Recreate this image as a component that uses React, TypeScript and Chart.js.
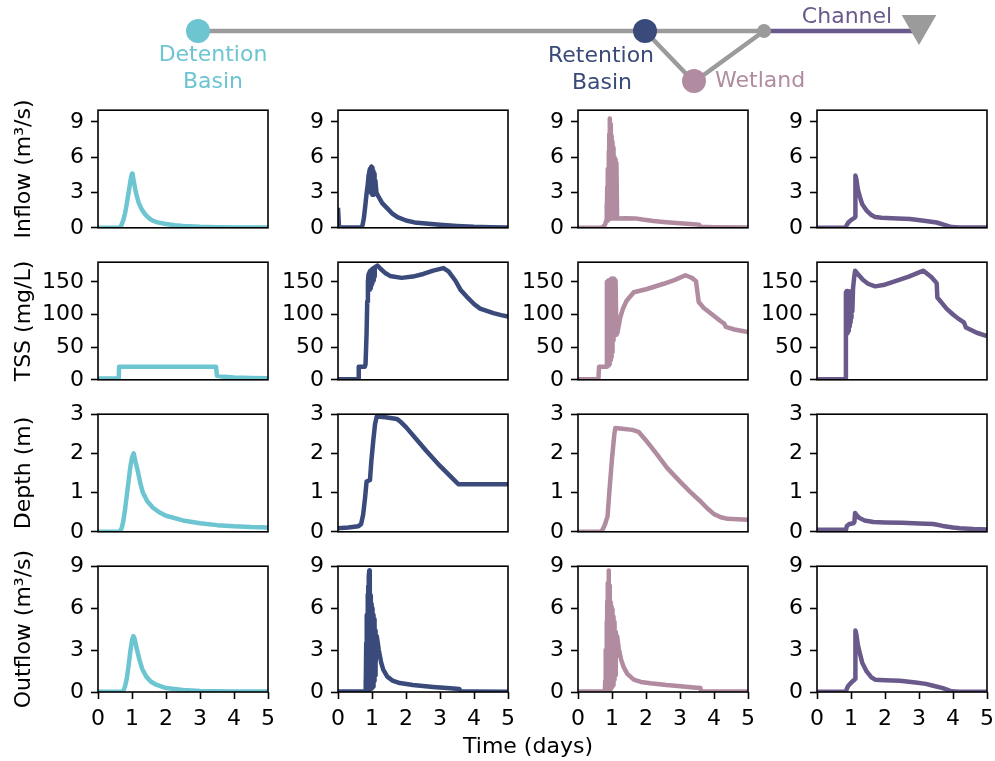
import React, { useEffect, useRef } from "react";
import { Chart, registerables } from "chart.js";

Chart.register(...registerables);

const FONT_FAMILY = "'DejaVu Sans', 'Liberation Sans', sans-serif";
const DETENTION = "#6cc5d1";
const RETENTION = "#3a4a7b";
const WETLAND = "#b18ba0";
const CHANNEL = "#6a5a8b";
const GRAY = "#9b9b9b";

// ---------- tick labels / axis ranges ----------
const timeTicks = [0, 1, 2, 3, 4, 5];
const flowTicks = [0, 3, 6, 9];
const tssTicks = [0, 50, 100, 150];
const depthTicks = [0, 1, 2, 3];
const rowLabels = ["Inflow (m³/s)", "TSS (mg/L)", "Depth (m)", "Outflow (m³/s)"];
const rowMax = [10, 180, 3, 9];
const rowTicks = [flowTicks, tssTicks, depthTicks, flowTicks];
const xAxisTitle = "Time (days)";

// ---------- series: [time (days), value] ----------
const detentionInflow = [
  [0, 0], [0.62, 0], [0.66, 0.05], [0.7, 0.3], [0.75, 0.7], [0.8, 1.3], [0.85, 2.1], [0.9, 3.0],
  [0.95, 3.9], [0.98, 4.4], [1.0, 4.6], [1.02, 4.5], [1.05, 4.0], [1.1, 3.2], [1.15, 2.6], [1.2, 2.1],
  [1.3, 1.5], [1.4, 1.1], [1.5, 0.82], [1.6, 0.62], [1.75, 0.46], [2.0, 0.32], [2.25, 0.22],
  [2.5, 0.15], [3.0, 0.08], [3.5, 0.05], [4.0, 0.03], [4.5, 0.02], [5.0, 0.02],
];
const retentionInflow = [
  [0, 1.7], [0.03, 0.03], [0.68, 0.03], [0.72, 0.2], [0.76, 0.8], [0.8, 1.8], [0.84, 2.9],
  [0.88, 3.8], [0.9, 4.5], [0.91, 3.3], [0.92, 4.8], [0.93, 3.2], [0.94, 5.0], [0.95, 3.1],
  [0.96, 5.1], [0.97, 3.0], [0.98, 5.2], [0.99, 2.9], [1.0, 5.1], [1.01, 2.8], [1.02, 5.0],
  [1.03, 2.8], [1.04, 4.8], [1.05, 2.8], [1.06, 4.6], [1.07, 2.9], [1.08, 4.3], [1.09, 3.0],
  [1.1, 4.0], [1.13, 3.0], [1.2, 2.6], [1.3, 2.1], [1.4, 1.8], [1.5, 1.5], [1.6, 1.2],
  [1.75, 0.9], [2.0, 0.62], [2.25, 0.46], [2.5, 0.38], [3.0, 0.25], [3.5, 0.15], [4.0, 0.08],
  [4.5, 0.05], [5.0, 0.03],
];
const wetlandInflow = [
  [0, 0], [0.7, 0], [0.76, 0.15], [0.8, 0.3], [0.83, 0.6], [0.84, 2.0], [0.85, 0.6], [0.86, 3.5],
  [0.87, 0.6], [0.88, 5.0], [0.89, 0.7], [0.9, 6.5], [0.91, 0.8], [0.92, 8.0], [0.93, 9.3],
  [0.94, 0.8], [0.95, 8.8], [0.96, 0.8], [0.97, 8.4], [0.98, 0.8], [0.99, 7.8], [1.0, 0.8],
  [1.01, 7.3], [1.02, 0.8], [1.03, 6.8], [1.04, 0.8], [1.05, 6.3], [1.06, 0.8], [1.07, 6.0],
  [1.08, 0.8], [1.09, 5.8], [1.1, 0.8], [1.11, 5.6], [1.12, 0.8], [1.13, 5.5], [1.15, 0.8],
  [1.4, 0.82], [1.69, 0.8], [1.9, 0.7], [2.22, 0.58], [2.6, 0.48], [3.0, 0.38], [3.4, 0.3],
  [3.56, 0.27], [3.6, 0.08], [4.0, 0.05], [5.0, 0.03],
];
const channelInflow = [
  [0, 0], [0.84, 0], [0.87, 0.2], [0.92, 0.45], [1.0, 0.65], [1.05, 0.75], [1.1, 0.85],
  [1.12, 0.95], [1.13, 4.45], [1.16, 4.1], [1.2, 3.3], [1.26, 2.65], [1.33, 2.0], [1.46, 1.46],
  [1.6, 1.08], [1.71, 0.92], [1.9, 0.86], [2.2, 0.82], [2.74, 0.74], [3.2, 0.58], [3.52, 0.45],
  [3.75, 0.25], [3.96, 0.06], [4.2, 0.02], [5.0, 0.02],
];

const detentionTSS = [
  [0, 2], [0.61, 2], [0.62, 20], [3.47, 20], [3.5, 6], [3.7, 4.5], [4.0, 3.5], [4.5, 2.8], [5.0, 2.3],
];
const retentionTSS = [
  [0, 1], [0.59, 1], [0.61, 20], [0.79, 20], [0.81, 24], [0.84, 70], [0.86, 120], [0.88, 150],
  [0.9, 162], [0.91, 140], [0.92, 164], [0.93, 138], [0.94, 166], [0.95, 140], [0.96, 167],
  [0.97, 142], [0.98, 168], [0.99, 145], [1.0, 169], [1.01, 148], [1.02, 170], [1.03, 152],
  [1.05, 171], [1.06, 158], [1.08, 172], [1.16, 175], [1.25, 170], [1.4, 163], [1.53, 159],
  [1.87, 156], [2.2, 158], [2.51, 162], [2.8, 167], [3.1, 171], [3.25, 166], [3.45, 152],
  [3.56, 142], [3.6, 138], [3.79, 127], [4.0, 116], [4.18, 109], [4.57, 102], [4.8, 99], [5.0, 97],
];
const wetlandTSS = [
  [0, 1], [0.6, 1], [0.62, 20], [0.84, 20], [0.85, 150], [0.86, 22], [0.87, 151], [0.88, 22],
  [0.89, 152], [0.9, 22], [0.91, 150], [0.92, 24], [0.93, 151], [0.94, 26], [0.95, 153],
  [0.96, 30], [0.97, 154], [0.98, 35], [0.99, 155], [1.0, 42], [1.01, 154], [1.02, 50],
  [1.03, 153], [1.04, 60], [1.05, 155], [1.06, 68], [1.07, 154], [1.08, 72], [1.09, 152],
  [1.1, 70], [1.11, 150], [1.13, 69], [1.16, 72], [1.24, 95], [1.33, 110], [1.43, 121],
  [1.64, 134], [2.03, 139], [2.52, 147], [2.85, 153], [3.16, 160], [3.35, 156], [3.47, 151],
  [3.55, 119], [3.7, 110], [3.9, 102], [4.19, 90], [4.3, 86], [4.35, 81], [4.6, 77], [5.0, 73],
];
const channelTSS = [
  [0, 1], [0.84, 1], [0.85, 134], [0.86, 72], [0.87, 136], [0.88, 70], [0.89, 135], [0.9, 72],
  [0.91, 136], [0.92, 75], [0.93, 134], [0.94, 78], [0.95, 135], [0.96, 82], [0.97, 134],
  [0.98, 88], [0.99, 133], [1.0, 95], [1.01, 132], [1.02, 100], [1.03, 134], [1.04, 105],
  [1.06, 140], [1.09, 155], [1.12, 167], [1.2, 162], [1.35, 153], [1.5, 147], [1.71, 143],
  [1.95, 145], [2.24, 150], [2.7, 158], [3.13, 167], [3.37, 157], [3.52, 148], [3.54, 126],
  [3.81, 109], [4.0, 100], [4.2, 92], [4.32, 88], [4.38, 80], [4.7, 72], [5.0, 67],
];

const detentionDepth = [
  [0, 0], [0.64, 0], [0.7, 0.1], [0.75, 0.3], [0.8, 0.6], [0.85, 0.95], [0.9, 1.3], [0.95, 1.65],
  [1.0, 1.9], [1.05, 2.0], [1.1, 1.8], [1.17, 1.55], [1.25, 1.22], [1.32, 1.0], [1.45, 0.78],
  [1.61, 0.62], [1.8, 0.5], [2.0, 0.41], [2.5, 0.29], [3.0, 0.22], [3.5, 0.17], [4.0, 0.14],
  [4.5, 0.12], [5.0, 0.11],
];
const retentionDepth = [
  [0, 0.09], [0.3, 0.11], [0.6, 0.14], [0.68, 0.2], [0.74, 0.44], [0.8, 0.9], [0.84, 1.28],
  [0.94, 1.32], [0.98, 1.8], [1.04, 2.35], [1.09, 2.75], [1.14, 2.94], [1.4, 2.92], [1.73, 2.88],
  [1.85, 2.8], [2.0, 2.67], [2.6, 2.06], [3.0, 1.68], [3.5, 1.25], [3.55, 1.21], [5.0, 1.21],
];
const wetlandDepth = [
  [0, 0], [0.66, 0], [0.72, 0.05], [0.8, 0.2], [0.87, 0.4], [0.92, 1.0], [1.0, 1.87], [1.07, 2.5],
  [1.1, 2.65], [1.3, 2.63], [1.6, 2.6], [1.78, 2.55], [2.0, 2.33], [2.3, 2.0], [2.62, 1.63],
  [3.0, 1.28], [3.3, 1.02], [3.6, 0.78], [3.8, 0.6], [4.0, 0.45], [4.2, 0.37], [4.4, 0.33],
  [4.7, 0.32], [5.0, 0.31],
];
const channelDepth = [
  [0, 0.05], [0.85, 0.05], [0.88, 0.15], [0.95, 0.2], [1.07, 0.22], [1.1, 0.25], [1.12, 0.48],
  [1.15, 0.44], [1.25, 0.35], [1.4, 0.29], [1.66, 0.25], [2.0, 0.24], [2.5, 0.23], [3.0, 0.21],
  [3.42, 0.2], [3.7, 0.15], [4.0, 0.11], [4.2, 0.09], [4.6, 0.07], [5.0, 0.06],
];

const detentionOutflow = [
  [0, 0.02], [0.72, 0.02], [0.76, 0.15], [0.8, 0.45], [0.85, 1.0], [0.9, 1.9], [0.95, 2.9],
  [1.0, 3.7], [1.04, 4.0], [1.08, 3.8], [1.12, 3.3], [1.22, 2.3], [1.3, 1.65], [1.42, 1.1],
  [1.55, 0.75], [1.71, 0.52], [2.0, 0.28], [2.5, 0.14], [3.0, 0.08], [3.5, 0.05], [4.0, 0.04],
  [5.0, 0.03],
];
const retentionOutflow = [
  [0, 0.03], [0.8, 0.03], [0.81, 0.8], [0.82, 0.05], [0.83, 3.5], [0.84, 0.1], [0.85, 5.5],
  [0.86, 0.1], [0.87, 7.0], [0.88, 0.1], [0.89, 7.6], [0.9, 0.1], [0.91, 8.3], [0.92, 8.7],
  [0.93, 0.2], [0.94, 7.6], [0.95, 0.2], [0.96, 6.9], [0.97, 0.2], [0.98, 6.3], [0.99, 0.3],
  [1.0, 6.0], [1.01, 0.3], [1.02, 5.7], [1.03, 0.4], [1.04, 5.5], [1.05, 0.6], [1.06, 5.2],
  [1.07, 0.8], [1.08, 4.8], [1.09, 1.2], [1.1, 4.4], [1.11, 2.0], [1.14, 4.0], [1.2, 3.0],
  [1.27, 2.1], [1.33, 1.6], [1.45, 1.1], [1.6, 0.82], [1.82, 0.64], [2.2, 0.5], [2.8, 0.36],
  [3.3, 0.26], [3.57, 0.22], [3.6, 0.05], [4.0, 0.04], [5.0, 0.02],
];
const wetlandOutflow = [
  [0, 0.03], [0.79, 0.03], [0.8, 0.8], [0.81, 0.05], [0.82, 3.0], [0.83, 0.1], [0.84, 5.0],
  [0.85, 0.1], [0.86, 6.5], [0.87, 0.1], [0.88, 7.8], [0.89, 0.1], [0.9, 8.7], [0.91, 0.2],
  [0.92, 7.6], [0.93, 0.2], [0.94, 7.0], [0.95, 0.2], [0.96, 6.4], [0.97, 0.3], [0.98, 6.1],
  [0.99, 0.3], [1.0, 5.9], [1.01, 0.4], [1.02, 5.6], [1.03, 0.5], [1.04, 5.4], [1.05, 0.6],
  [1.06, 5.0], [1.07, 0.9], [1.08, 4.6], [1.09, 1.2], [1.11, 4.3], [1.12, 2.5], [1.15, 4.0],
  [1.2, 3.1], [1.27, 2.3], [1.34, 1.8], [1.45, 1.3], [1.64, 0.88], [1.85, 0.72], [2.13, 0.62],
  [2.6, 0.5], [3.1, 0.4], [3.4, 0.33], [3.6, 0.28], [3.62, 0.05], [4.0, 0.04], [5.0, 0.03],
];
const channelOutflow = [
  [0, 0.02], [0.85, 0.02], [0.88, 0.25], [0.92, 0.45], [1.0, 0.65], [1.05, 0.78], [1.1, 0.87],
  [1.12, 0.95], [1.13, 4.4], [1.16, 4.1], [1.2, 3.4], [1.26, 2.77], [1.33, 2.1], [1.46, 1.47],
  [1.6, 1.05], [1.71, 0.88], [2.0, 0.84], [2.44, 0.8], [2.9, 0.68], [3.2, 0.58], [3.42, 0.45],
  [3.7, 0.28], [3.96, 0.05], [4.2, 0.02], [5.0, 0.02],
];

const panelSeries = [
  [detentionInflow, retentionInflow, wetlandInflow, channelInflow],
  [detentionTSS, retentionTSS, wetlandTSS, channelTSS],
  [detentionDepth, retentionDepth, wetlandDepth, channelDepth],
  [detentionOutflow, retentionOutflow, wetlandOutflow, channelOutflow],
];
const columnColors = [DETENTION, RETENTION, WETLAND, CHANNEL];

// ---------- schematic (drawn on a 0..995 x 0..100 scale) ----------
const schematicMainStem = [[198, 31], [764, 31]];
const schematicWetlandBranch = [[645, 31], [694, 82], [764, 31]];
const schematicChannel = [[764, 31], [916, 31]];
const schematicNodes = [
  { x: 198, y: 31, r: 12, color: DETENTION },
  { x: 645, y: 31, r: 12, color: RETENTION },
  { x: 694, y: 81, r: 12, color: WETLAND },
  { x: 764, y: 31, r: 7, color: GRAY },
];
const schematicOutlet = [[919, 25]];
const schematicLabels = [
  { text: "Detention", x: 213, y: 55, color: DETENTION, align: "center" },
  { text: "Basin", x: 213, y: 82, color: DETENTION, align: "center" },
  { text: "Retention", x: 601, y: 56, color: RETENTION, align: "center" },
  { text: "Basin", x: 602, y: 83, color: RETENTION, align: "center" },
  { text: "Wetland", x: 715, y: 81, color: WETLAND, align: "left" },
  { text: "Channel", x: 847, y: 17, color: CHANNEL, align: "center" },
];

// ---------- layout ----------
const COL_LEFT = [98, 338, 578, 817];
const ROW_TOP = [110, 262, 414, 566];
const PLOT_W = 170;
const PLOT_H = 126;
const Y_W = 90;
const PAD_R = 22;
const PAD_T = 20;
const PAD_B = 12;
const X_H = 52;
const FONT_SIZE = 22;
const LINE_W = 4.5;

const framePlugin = {
  id: "frame",
  afterDatasetsDraw(chart: any) {
    const { ctx, chartArea: a } = chart;
    ctx.save();
    ctx.strokeStyle = "#000";
    ctx.lineWidth = 1.6;
    ctx.strokeRect(a.left, a.top, a.right - a.left, a.bottom - a.top);
    ctx.restore();
  },
};

function Panel({ row, col }: { row: number; col: number }) {
  const ref = useRef<HTMLCanvasElement | null>(null);
  const isBottom = row === 3;
  const width = Y_W + PLOT_W + PAD_R;
  const height = PAD_T + PLOT_H + (isBottom ? X_H : PAD_B);
  useEffect(() => {
    if (!ref.current) return;
    const series = panelSeries[row][col];
    const font = { family: FONT_FAMILY, size: FONT_SIZE };
    const grid = {
      display: true,
      drawOnChartArea: false,
      drawTicks: true,
      tickLength: 7,
      tickWidth: 1.6,
      tickColor: "#000",
    };
    const chart = new Chart(ref.current, {
      type: "line",
      data: {
        datasets: [
          {
            data: series.map(([x, y]) => ({ x, y })),
            borderColor: columnColors[col],
            borderWidth: LINE_W,
            pointRadius: 0,
            tension: 0,
            fill: false,
            clip: 0,
            borderJoinStyle: "round",
            borderCapStyle: "butt",
          } as any,
        ],
      },
      options: {
        animation: false,
        responsive: false,
        maintainAspectRatio: false,
        events: [],
        layout: {
          autoPadding: false,
          padding: { left: 0, right: PAD_R, top: PAD_T, bottom: isBottom ? 0 : PAD_B },
        },
        plugins: { legend: { display: false }, tooltip: { enabled: false } },
        scales: {
          x: {
            type: "linear",
            min: 0,
            max: 5,
            display: isBottom,
            afterBuildTicks: (s: any) => {
              s.ticks = timeTicks.map((v) => ({ value: v }));
            },
            afterFit: (s: any) => {
              if (isBottom) s.height = X_H;
            },
            grid,
            border: { display: false },
            ticks: { font, color: "#000", padding: 7, maxRotation: 0, autoSkip: false },
          },
          y: {
            type: "linear",
            min: 0,
            max: rowMax[row],
            afterBuildTicks: (s: any) => {
              s.ticks = rowTicks[row].map((v) => ({ value: v }));
            },
            afterFit: (s: any) => {
              s.width = Y_W;
            },
            grid,
            border: { display: false },
            ticks: { font, color: "#000", padding: 7, autoSkip: false },
            title: {
              display: col === 0,
              text: rowLabels[row],
              font,
              color: "#000",
              padding: { top: 3, bottom: 0 },
            },
          },
        },
      } as any,
      plugins: [framePlugin],
    });
    return () => chart.destroy();
  }, [row, col]);
  return (
    <canvas
      ref={ref}
      width={width}
      height={height}
      style={{
        position: "absolute",
        left: COL_LEFT[col] - Y_W,
        top: ROW_TOP[row] - PAD_T,
        width,
        height,
      }}
    />
  );
}

const labelPlugin = {
  id: "schematicLabels",
  afterDatasetsDraw(chart: any) {
    const { ctx, scales } = chart;
    ctx.save();
    ctx.font = `${FONT_SIZE}px ${FONT_FAMILY}`;
    ctx.textBaseline = "middle";
    for (const l of schematicLabels) {
      ctx.fillStyle = l.color;
      ctx.textAlign = l.align as CanvasTextAlign;
      ctx.fillText(l.text, scales.x.getPixelForValue(l.x), scales.y.getPixelForValue(l.y));
    }
    ctx.restore();
  },
};

function Schematic() {
  const ref = useRef<HTMLCanvasElement | null>(null);
  useEffect(() => {
    if (!ref.current) return;
    const pts = (arr: number[][]) => arr.map(([x, y]) => ({ x, y }));
    const lineDs = (arr: number[][], color: string) => ({
      data: pts(arr),
      showLine: true,
      borderColor: color,
      borderWidth: 4.5,
      pointRadius: 0,
      tension: 0,
      clip: false,
    });
    const chart = new Chart(ref.current, {
      type: "scatter",
      data: {
        datasets: [
          {
            data: schematicNodes.map((n) => ({ x: n.x, y: n.y })),
            pointRadius: schematicNodes.map((n) => n.r),
            pointBackgroundColor: schematicNodes.map((n) => n.color),
            pointBorderWidth: 0,
            showLine: false,
            clip: false,
          },
          {
            data: pts(schematicOutlet),
            pointStyle: "triangle",
            rotation: 180,
            pointRadius: 20,
            pointBackgroundColor: GRAY,
            pointBorderWidth: 0,
            showLine: false,
            clip: false,
          },
          lineDs(schematicChannel, CHANNEL),
          lineDs(schematicWetlandBranch, GRAY),
          lineDs(schematicMainStem, GRAY),
        ] as any,
      },
      options: {
        animation: false,
        responsive: false,
        maintainAspectRatio: false,
        events: [],
        layout: { autoPadding: false, padding: 0 },
        plugins: { legend: { display: false }, tooltip: { enabled: false } },
        scales: {
          x: { type: "linear", min: 0, max: 995, display: false },
          y: { type: "linear", min: 0, max: 100, reverse: true, display: false },
        },
      } as any,
      plugins: [labelPlugin],
    });
    return () => chart.destroy();
  }, []);
  return (
    <canvas
      ref={ref}
      width={995}
      height={100}
      style={{ position: "absolute", left: 0, top: 0, width: 995, height: 100 }}
    />
  );
}

export default function App() {
  const cells: React.ReactNode[] = [];
  for (let r = 0; r < 4; r++) {
    for (let c = 0; c < 4; c++) {
      cells.push(<Panel key={`${r}-${c}`} row={r} col={c} />);
    }
  }
  return (
    <div
      style={{
        position: "absolute",
        left: 0,
        top: 0,
        width: 995,
        height: 761,
        background: "#fff",
        overflow: "hidden",
      }}
    >
      <Schematic />
      {cells}
      <div
        style={{
          position: "absolute",
          left: 378,
          top: 733,
          width: 300,
          textAlign: "center",
          fontFamily: FONT_FAMILY,
          fontSize: FONT_SIZE,
          lineHeight: "26px",
          color: "#000",
        }}
      >
        {xAxisTitle}
      </div>
    </div>
  );
}
